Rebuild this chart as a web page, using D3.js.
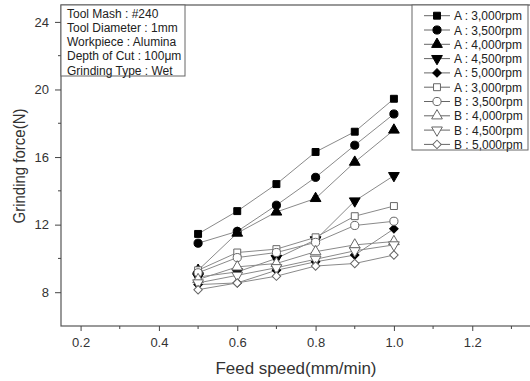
<!DOCTYPE html>
<html lang="en">
<head>
    <meta charset="UTF-8">
    <title>Grinding force vs feed speed</title>
    <script src="https://d3js.org/d3.v7.min.js"></script>
    <style>
        body { margin: 0; background: #fff; }
        svg { display: block; font-family: Arial, "Liberation Sans", sans-serif; }
        .tick text { fill: #333; font-size: 13px; }
        .domain, .tick line { stroke: #444; }
    </style>
</head>
<body>
<svg id="chart" width="530" height="381"></svg>
<script>
    // feed speeds (mm/min)
    const feeds = [0.5, 0.6, 0.7, 0.8, 0.9, 1.0];

    // series names as printed in the legend
    const seriesNames = [
        "A : 3,000rpm", "A : 3,500rpm", "A : 4,000rpm", "A : 4,500rpm", "A : 5,000rpm",
        "A : 3,000rpm", "B : 3,500rpm", "B : 4,000rpm", "B : 4,500rpm", "B : 5,000rpm"
    ];

    // grinding force (N)
    const a3000 = [11.45, 12.8, 14.4, 16.3, 17.5, 19.45];
    const a3500 = [10.9, 11.6, 13.15, 14.8, 16.7, 18.55];
    const a4000 = [9.3, 11.5, 12.75, 13.55, 15.7, 17.6];
    const a4500 = [8.9, 9.2, 10.0, 11.1, 13.4, 14.9];
    const a5000 = [8.45, 8.55, 9.3, 9.8, 10.2, 11.75];
    const b3000 = [9.3, 10.35, 10.55, 11.25, 12.5, 13.1];
    const b3500 = [9.15, 10.05, 10.35, 10.95, 11.95, 12.2];
    const b4000 = [8.75, 9.5, 9.7, 10.4, 10.8, 11.0];
    const b4500 = [8.55, 9.0, 9.45, 9.95, 10.45, 10.8];
    const b5000 = [8.15, 8.55, 8.95, 9.55, 9.7, 10.2];
    const allSeries = [a3000, a3500, a4000, a4500, a5000, b3000, b3500, b4000, b4500, b5000];

    const xTicks = [0.2, 0.4, 0.6, 0.8, 1.0, 1.2];
    const yTicks = [8, 12, 16, 20, 24];

    const infoLines = [
        "Tool Mash : #240",
        "Tool Diameter : 1mm",
        "Workpiece : Alumina",
        "Depth of Cut : 100\u03bcm",
        "Grinding Type : Wet"
    ];

    const svg = d3.select("#chart");
    const pLeft = 61, pTop = 5, pBottom = 326, pRight = 531;

    const x = d3.scaleLinear().domain([0.15, 1.35]).range([pLeft, pRight]);
    const y = d3.scaleLinear().domain([6, 25]).range([pBottom, pTop]);

    // plot frame
    svg.append("rect")
        .attr("x", pLeft).attr("y", pTop)
        .attr("width", pRight - pLeft).attr("height", pBottom - pTop)
        .attr("fill", "none").attr("stroke", "#555").attr("stroke-width", 1.2);

    // minor ticks
    const xMinor = [0.3, 0.5, 0.7, 0.9, 1.1, 1.3];
    svg.append("g")
        .selectAll("line").data(xMinor).join("line")
        .attr("x1", d => x(d)).attr("x2", d => x(d))
        .attr("y1", pBottom).attr("y2", pBottom + 3)
        .attr("stroke", "#444");
    const yMinor = [10, 14, 18, 22];
    svg.append("g")
        .selectAll("line").data(yMinor).join("line")
        .attr("x1", pLeft - 3).attr("x2", pLeft)
        .attr("y1", d => y(d)).attr("y2", d => y(d))
        .attr("stroke", "#444");

    svg.append("g")
        .attr("transform", `translate(0,${pBottom})`)
        .call(d3.axisBottom(x).tickValues(xTicks).tickFormat(d3.format(".1f")).tickSize(5).tickPadding(7))
        .call(g => g.select(".domain").remove());

    svg.append("g")
        .attr("transform", `translate(${pLeft},0)`)
        .call(d3.axisLeft(y).tickValues(yTicks).tickSize(6).tickPadding(6))
        .call(g => g.select(".domain").remove());

    // axis titles
    svg.append("text")
        .attr("x", 296).attr("y", 374)
        .attr("text-anchor", "middle")
        .attr("font-size", 16).attr("fill", "#333")
        .attr("textLength", 161).attr("lengthAdjust", "spacingAndGlyphs")
        .text("Feed speed(mm/min)");
    svg.append("text")
        .attr("transform", "translate(25,166) rotate(-90)")
        .attr("text-anchor", "middle")
        .attr("font-size", 16).attr("fill", "#333")
        .attr("textLength", 115).attr("lengthAdjust", "spacingAndGlyphs")
        .text("Grinding force(N)");

    // markers: square, circle, triangle, down triangle, diamond
    const shapes = [
        { type: d3.symbolSquare, size: 48, rot: 0 },
        { type: d3.symbolCircle, size: 52, rot: 0 },
        { type: d3.symbolTriangle, size: 50, rot: 0 },
        { type: d3.symbolTriangle, size: 50, rot: 180 },
        { type: d3.symbolSquare, size: 36, rot: 45 }
    ];
    function marker(i) {
        const s = shapes[i % 5];
        return {
            path: d3.symbol().type(s.type).size(s.size)(),
            rot: s.rot,
            fill: i < 5 ? "#000" : "#fff",
            stroke: i < 5 ? "#000" : "#666"
        };
    }

    const line = d3.line().x((d, i) => x(feeds[i])).y(d => y(d));
    const plot = svg.append("g");

    allSeries.forEach((vals, i) => {
        const m = marker(i);
        const g = plot.append("g");
        g.append("path")
            .attr("d", line(vals))
            .attr("fill", "none").attr("stroke", "#8a8a8a").attr("stroke-width", 1);
        g.selectAll("path.pt").data(vals).join("path")
            .attr("class", "pt")
            .attr("d", m.path)
            .attr("transform", (d, j) => `translate(${x(feeds[j])},${y(d)}) rotate(${m.rot})`)
            .attr("fill", m.fill).attr("stroke", m.stroke).attr("stroke-width", 1);
    });

    // info box
    const info = svg.append("g");
    info.append("rect")
        .attr("x", pLeft).attr("y", pTop)
        .attr("width", 124).attr("height", 71)
        .attr("fill", "#fff").attr("stroke", "#666");
    info.selectAll("text").data(infoLines).join("text")
        .attr("x", 67).attr("y", (d, i) => 17.5 + i * 14.3)
        .attr("font-size", 12).attr("fill", "#222")
        .text(d => d);

    // legend
    const legend = svg.append("g");
    legend.append("rect")
        .attr("x", 412).attr("y", pTop)
        .attr("width", 116).attr("height", 145)
        .attr("fill", "#fff").attr("stroke", "#666");
    seriesNames.forEach((name, i) => {
        const m = marker(i);
        const ly = 15.7 + i * 14.3;
        legend.append("line")
            .attr("x1", 424).attr("x2", 450).attr("y1", ly).attr("y2", ly)
            .attr("stroke", "#666");
        legend.append("path")
            .attr("d", m.path)
            .attr("transform", `translate(437,${ly}) rotate(${m.rot})`)
            .attr("fill", m.fill).attr("stroke", m.stroke);
        legend.append("text")
            .attr("x", 454).attr("y", ly + 4.5)
            .attr("font-size", 12).attr("fill", "#222")
            .text(name);
    });
</script>
</body>
</html>
